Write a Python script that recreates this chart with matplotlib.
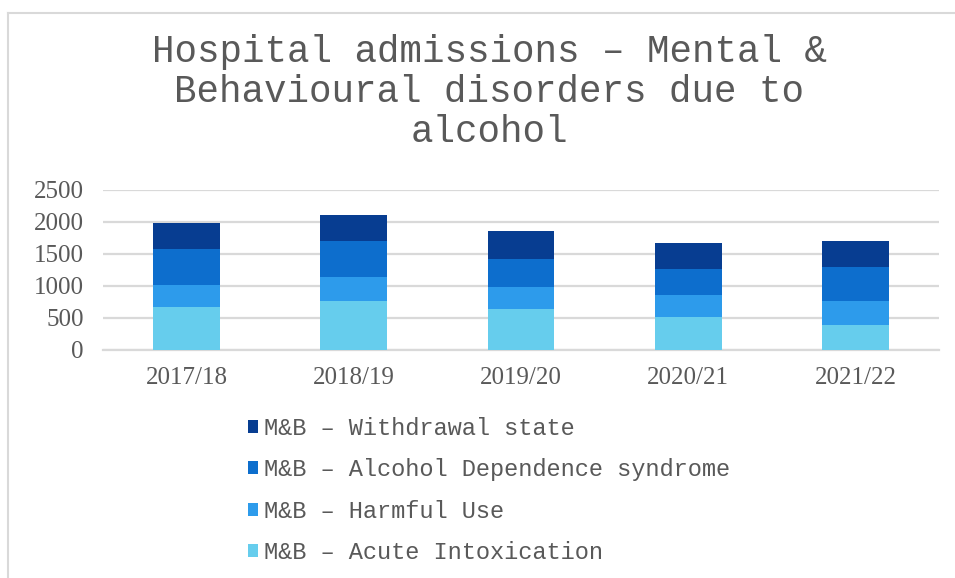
import matplotlib
matplotlib.use("Agg")
import matplotlib.pyplot as plt
from matplotlib.lines import Line2D
from matplotlib.patches import Patch

# data
years = ["2017/18", "2018/19", "2019/20", "2020/21", "2021/22"]
acute = [672, 766, 641, 516, 391]
harmful = [344, 375, 343, 343, 375]
dependence = [562, 562, 438, 407, 531]
withdrawal = [406, 406, 437, 406, 406]

series_names = [
    "M&B – Acute Intoxication",
    "M&B – Harmful Use",
    "M&B – Alcohol Dependence syndrome",
    "M&B – Withdrawal state",
]
colors = ["#66CDED", "#2D9BEB", "#0D6ECD", "#073D91"]
yticks = [0, 500, 1000, 1500, 2000, 2500]

grey_text = "#595959"
grid_col = "#D9D9D9"

fig = plt.figure(figsize=(9.55, 5.78), dpi=100)
W, H = 955, 578

# plot area in pixels: x 103..939, y 190..350
ax = fig.add_axes([103 / W, 1 - 350 / H, (939 - 103) / W, 160 / H])

x = range(len(years))
bottom = [0] * len(years)
for vals, name, col in zip([acute, harmful, dependence, withdrawal], series_names, colors):
    ax.bar(x, vals, width=0.4, bottom=bottom, color=col, label=name, zorder=3)
    bottom = [b + v for b, v in zip(bottom, vals)]

ax.set_xlim(-0.5, len(years) - 0.5)
ax.set_ylim(0, 2500)
ax.set_yticks(yticks)
ax.set_yticklabels([str(t) for t in yticks])
ax.set_xticks(list(x))
ax.set_xticklabels(years)
ax.yaxis.grid(True, color=grid_col, linewidth=1.6, zorder=0)
ax.set_axisbelow(True)
for s in ["top", "right", "left"]:
    ax.spines[s].set_visible(False)
ax.spines["bottom"].set_color(grid_col)
ax.spines["bottom"].set_linewidth(1.6)
ax.tick_params(length=0, colors=grey_text)
ax.tick_params(axis="y", pad=14)
ax.tick_params(axis="x", pad=12)
for lab in ax.get_xticklabels() + ax.get_yticklabels():
    lab.set_fontfamily("Liberation Serif")
    lab.set_fontsize(18)
    lab.set_color(grey_text)

# title
fig.text(489 / W, 1 - 92 / H,
         "Hospital admissions – Mental &\nBehavioural disorders due to\nalcohol",
         ha="center", va="center", family="Liberation Mono", fontsize=27,
         color=grey_text, linespacing=1.15)

# legend, one entry per row, reversed order
handles = [Patch(facecolor=c, edgecolor="none") for c in colors][::-1]
labels = series_names[::-1]
leg = fig.legend(handles, labels, loc="upper left",
                 bbox_to_anchor=(236 / W, 1 - 405 / H), frameon=False,
                 prop={"family": "Liberation Mono", "size": 17},
                 handlelength=0.45, handleheight=0.45, handletextpad=0.25,
                 labelspacing=0.78, borderpad=0)
for t in leg.get_texts():
    t.set_color(grey_text)

# chart border (left and top)
fig.add_artist(Line2D([8 / W, 8 / W], [0, 1 - 13 / H], color=grid_col,
                      linewidth=1.5, transform=fig.transFigure))
fig.add_artist(Line2D([8 / W, 1], [1 - 13 / H, 1 - 13 / H], color=grid_col,
                      linewidth=1.5, transform=fig.transFigure))

fig.savefig("out.png", dpi=100)
